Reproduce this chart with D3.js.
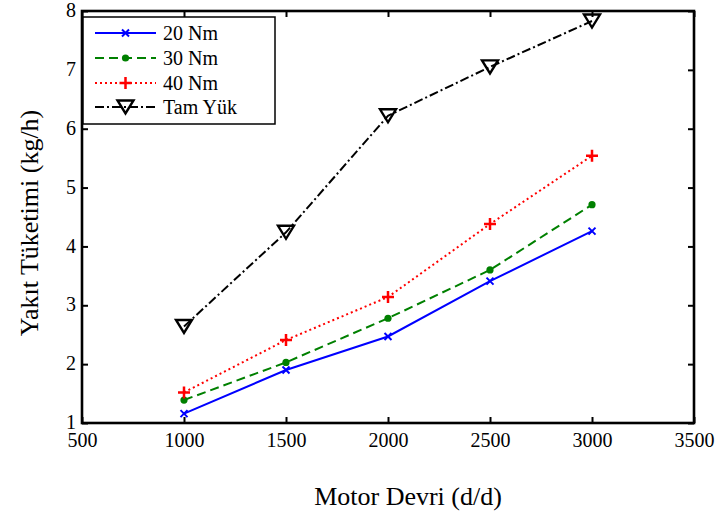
<!DOCTYPE html>
<html>
<head>
<meta charset="utf-8">
<script src="https://cdn.jsdelivr.net/npm/d3@7"></script>
<style>
  html, body { margin: 0; padding: 0; background: #fff; }
  svg { display: block; }
  svg text { font-family: "Liberation Serif", "Times New Roman", serif; fill: #000; }
</style>
</head>
<body>
<svg id="chart" width="719" height="515"></svg>
<script>
// Engine speed (rpm) on the x axis
const speeds = [1000, 1500, 2000, 2500, 3000];
// Fuel consumption (kg/h) for each load case
const nm20 = [1.16, 1.90, 2.47, 3.41, 4.26];
const nm30 = [1.39, 2.03, 2.78, 3.60, 4.71];
const nm40 = [1.52, 2.41, 3.14, 4.38, 5.54];
const fullLoad = [2.64, 4.24, 6.22, 7.05, 7.83];

const seriesNames = ["20 Nm", "30 Nm", "40 Nm", "Tam Yük"];
const xTicks = [500, 1000, 1500, 2000, 2500, 3000, 3500];
const yTicks = [1, 2, 3, 4, 5, 6, 7, 8];

const svg = d3.select("#chart");
const L = 82, R = 694, T = 11, B = 423;

const x = d3.scaleLinear().domain([500, 3500]).range([L, R]);
const y = d3.scaleLinear().domain([1, 8]).range([B, T]);

const series = [
  { name: seriesNames[0], values: nm20, color: "#0000ff", dash: null, marker: "x" },
  { name: seriesNames[1], values: nm30, color: "#008000", dash: "9,5", marker: "dot" },
  { name: seriesNames[2], values: nm40, color: "#ff0000", dash: "2,3", marker: "plus" },
  { name: seriesNames[3], values: fullLoad, color: "#000000", dash: "9,3,2,3", marker: "tri" }
];

function drawMarker(g, type, cx, cy, color) {
  if (type === "x") {
    const s = 3.5;
    g.append("path")
      .attr("d", `M${cx - s},${cy - s}L${cx + s},${cy + s}M${cx - s},${cy + s}L${cx + s},${cy - s}`)
      .attr("stroke", color).attr("stroke-width", 2).attr("fill", "none");
  } else if (type === "dot") {
    g.append("circle").attr("cx", cx).attr("cy", cy).attr("r", 3.6).attr("fill", color);
  } else if (type === "plus") {
    const s = 6;
    g.append("path")
      .attr("d", `M${cx - s},${cy}L${cx + s},${cy}M${cx},${cy - s}L${cx},${cy + s}`)
      .attr("stroke", color).attr("stroke-width", 2.5).attr("fill", "none");
  } else if (type === "tri") {
    const w = 8, h = 6.5;
    g.append("path")
      .attr("d", `M${cx - w},${cy - h}L${cx + w},${cy - h}L${cx},${cy + h}Z`)
      .attr("stroke", color).attr("stroke-width", 2.4).attr("fill", "none")
      .attr("stroke-linejoin", "miter");
  }
}

// Series lines and markers
const line = d3.line().x((d, i) => x(speeds[i])).y(d => y(d));
const plot = svg.append("g");
series.forEach(s => {
  plot.append("path")
    .datum(s.values)
    .attr("d", line)
    .attr("fill", "none")
    .attr("stroke", s.color)
    .attr("stroke-width", 2)
    .attr("stroke-dasharray", s.dash);
  s.values.forEach((v, i) => drawMarker(plot, s.marker, x(speeds[i]), y(v), s.color));
});

// Axes with inward ticks on all four sides
const axes = svg.append("g");
const tickLen = 6;
const fmt = d3.format("d");
axes.append("g").attr("transform", `translate(0,${B})`)
  .call(d3.axisBottom(x).tickValues(xTicks).tickFormat(fmt).tickSizeInner(-tickLen).tickSizeOuter(0).tickPadding(10));
axes.append("g").attr("transform", `translate(0,${T})`)
  .call(d3.axisTop(x).tickValues(xTicks).tickSizeInner(-tickLen).tickSizeOuter(0).tickFormat(""));
axes.append("g").attr("transform", `translate(${L},0)`)
  .call(d3.axisLeft(y).tickValues(yTicks).tickFormat(fmt).tickSizeInner(-tickLen).tickSizeOuter(0).tickPadding(6))
  .call(g => g.selectAll("text").attr("dy", "0.28em"));
axes.append("g").attr("transform", `translate(${R},0)`)
  .call(d3.axisRight(y).tickValues(yTicks).tickSizeInner(-tickLen).tickSizeOuter(0).tickFormat(""));
axes.selectAll(".domain").remove();
axes.selectAll(".tick line").attr("stroke", "#000").attr("stroke-width", 2);
axes.selectAll(".tick text")
  .style("font-family", "'Liberation Serif', 'Times New Roman', serif")
  .style("font-size", "20px")
  .attr("fill", "#000");

// Frame
svg.append("rect")
  .attr("x", L).attr("y", T).attr("width", R - L).attr("height", B - T)
  .attr("fill", "none").attr("stroke", "#000").attr("stroke-width", 2.6);

// Axis titles
svg.append("text")
  .attr("x", 408).attr("y", 505)
  .attr("text-anchor", "middle").style("font-size", "26px")
  .text("Motor Devri (d/d)");
svg.append("text")
  .attr("transform", "translate(38,223) rotate(-90)")
  .attr("text-anchor", "middle").style("font-size", "26px")
  .text("Yakıt Tüketimi (kg/h)");

// Legend
const leg = svg.append("g");
leg.append("rect")
  .attr("x", 83).attr("y", 17).attr("width", 192).attr("height", 107)
  .attr("fill", "#fff").attr("stroke", "#000").attr("stroke-width", 1.5);
const rowY = [33, 58, 83, 107];
series.forEach((s, i) => {
  const yy = rowY[i];
  leg.append("line")
    .attr("x1", 95).attr("x2", 156).attr("y1", yy).attr("y2", yy)
    .attr("stroke", s.color).attr("stroke-width", 2)
    .attr("stroke-dasharray", s.dash);
  drawMarker(leg, s.marker, 125.5, yy, s.color);
  leg.append("text")
    .attr("x", 163).attr("y", yy + 7)
    .style("font-size", "20px").text(s.name);
});
</script>
</body>
</html>
